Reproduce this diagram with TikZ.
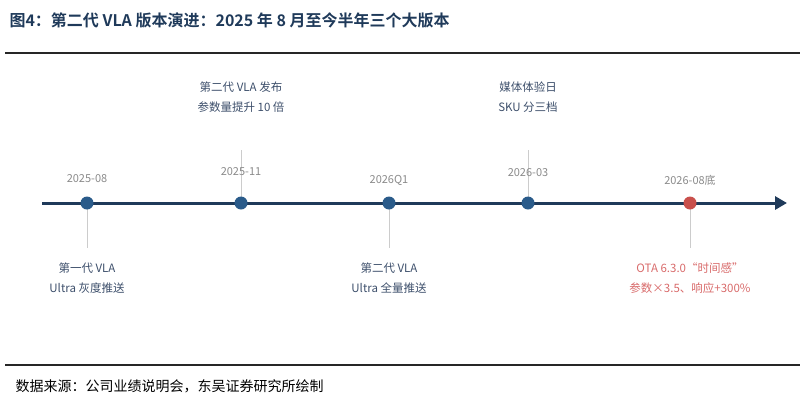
\documentclass[tikz,border=0pt]{standalone}
\usepackage{fontspec}
\setmainfont{Noto Sans CJK SC}
\newfontfamily\cjkbold{Noto Sans CJK SC}[BoldFont={* Bold}]
\usetikzlibrary{positioning,arrows.meta}
\definecolor{navy}{HTML}{1F3A5A}
\definecolor{dotblue}{HTML}{2A5B8A}
\definecolor{txtblue}{HTML}{3D4F6B}
\definecolor{dategray}{HTML}{8A8A8A}
\definecolor{redpt}{HTML}{C9504C}
\definecolor{redtxt}{HTML}{D86A6A}
\tikzset{
  dot/.style={circle,fill=dotblue,inner sep=0pt,minimum size=13pt},
  date/.style={font=\fontsize{11}{12}\selectfont,text=dategray},
  info/.style={font=\fontsize{11.5}{20.5}\selectfont,text=txtblue,align=center},
  stem/.style={draw=black!20,line width=1pt}
}
\begin{document}
\begin{tikzpicture}[x=1pt,y=-1pt]
      \useasboundingbox (0,0) rectangle (805,402);
      % title and rules
      \node[anchor=west,font=\cjkbold\bfseries\fontsize{16}{18}\selectfont,text=navy] (title) at (6,20) {图4：第二代 VLA 版本演进：2025 年 8 月至今半年三个大版本};
      \draw[line width=1.6pt,black!85] (5,53) -- (800,53);
      \draw[line width=1.6pt,black!85] (5,365) -- (800,365);
      \node[anchor=west,font=\fontsize{14}{15}\selectfont] (src) at (12,386) {数据来源：公司业绩说明会，东吴证券研究所绘制};
      % stems and axis
      \coordinate (p1) at (87,203);
      \coordinate (p2) at (241,203);
      \coordinate (p3) at (389,203);
      \coordinate (p4) at (528,203);
      \coordinate (p5) at (690,203);
      \coordinate (s1) at (87,248);
      \coordinate (s2) at (241,150);
      \coordinate (s3) at (389,248);
      \coordinate (s4) at (528,150);
      \coordinate (s5) at (690,248);
      \coordinate (start) at (42,203);
      \coordinate (end) at (787,203);
      \foreach \i in {1,...,5} \draw[stem] (p\i) -- (s\i);
      \draw[navy,line width=3pt,-{Triangle[length=12pt,width=13pt]}] (start) -- (end);
      \node[dot] (d1) at (p1) {};
      \node[dot] (d2) at (p2) {};
      \node[dot] (d3) at (p3) {};
      \node[dot] (d4) at (p4) {};
      \node[dot,fill=redpt] (d5) at (p5) {};
      % dates
      \node[date] (t1) at (87,179) {2025-08};
      \node[date] (t2) at (241,172) {2025-11};
      \node[date] (t3) at (389,180) {2026Q1};
      \node[date] (t4) at (528,173) {2026-03};
      \node[date] (t5) at (690,180) {2026-08底};
      % notes
      \node[info] (n2) at (241,97) {第二代 VLA 发布\\参数量提升 10 倍};
      \node[info] (n4) at (528,97) {媒体体验日\\SKU 分三档};
      \node[info] (n1) at (87,278) {第一代 VLA\\Ultra 灰度推送};
      \node[info] (n3) at (389,278) {第二代 VLA\\Ultra 全量推送};
      \node[info,text=redtxt] (n5) at (690,278) {OTA 6.3.0“时间感”\\参数×3.5、响应+300\%};
    \end{tikzpicture}
\end{document}
